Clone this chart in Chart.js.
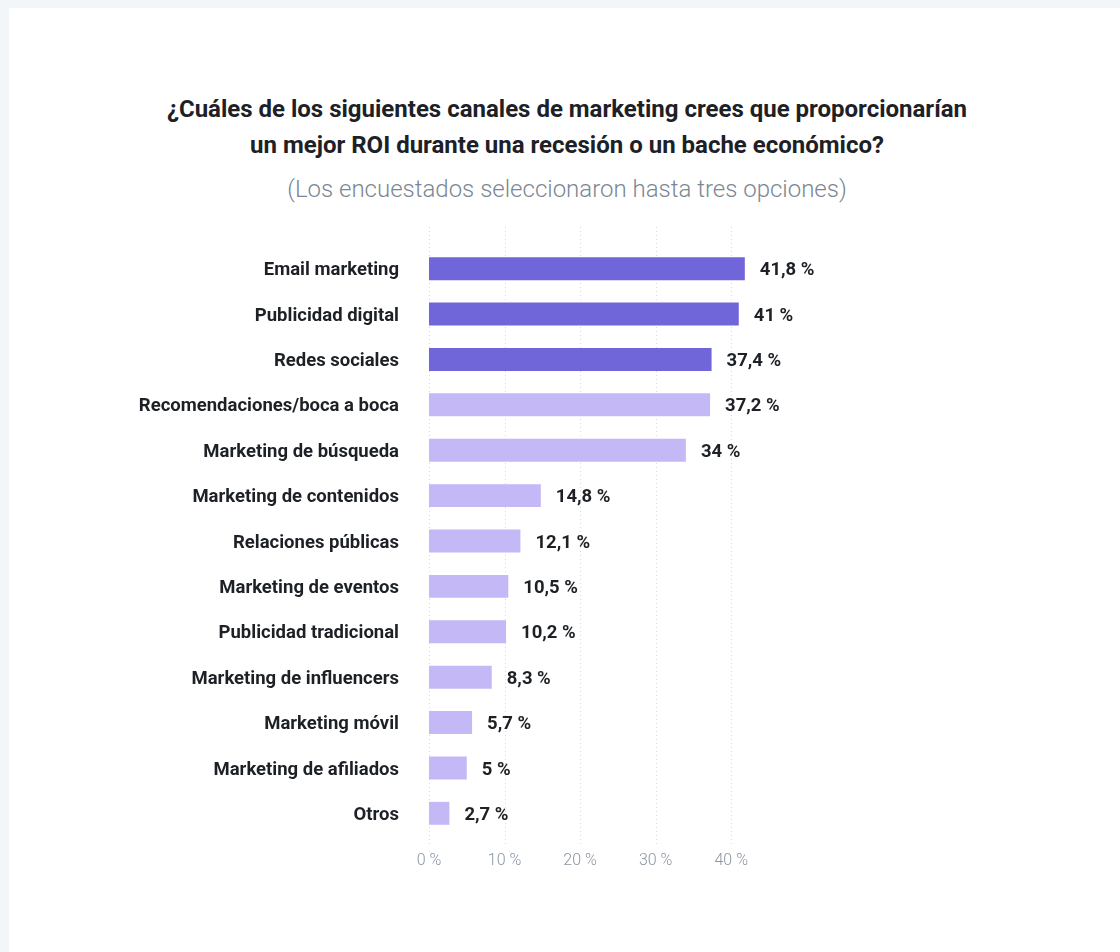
<!DOCTYPE html>
<html lang="es">
<head>
<meta charset="utf-8">
<title>Canales de marketing con mejor ROI en recesión</title>
<script src="https://cdn.jsdelivr.net/npm/chart.js@4/dist/chart.umd.min.js"></script>
<style>
  html, body { margin: 0; padding: 0; background: #f3f6f9; }
  body { width: 1120px; height: 952px; position: relative; overflow: hidden; font-family: Roboto, "Noto Sans", Arial, sans-serif; }
  .card { position: absolute; left: 9px; top: 8px; right: 0; bottom: 0; background: #ffffff; }
  .head { position: absolute; left: 14px; width: 1106px; text-align: center; margin: 0; white-space: nowrap; }
  h1.head { top: 91px; font-size: 24px; line-height: 36px; font-weight: 700; color: #1d2126; }
  p.head { top: 174px; font-size: 24px; line-height: 30px; font-weight: 300; color: #7b8794; }
  #chart { position: absolute; left: 14px; top: 8px; }
</style>
</head>
<body>
<div class="card"></div>
<h1 class="head">¿Cuáles de los siguientes canales de marketing crees que proporcionarían<br>un mejor ROI durante una recesión o un bache económico?</h1>
<p class="head">(Los encuestados seleccionaron hasta tres opciones)</p>
<canvas id="chart" width="1106" height="944"></canvas>
<script>
// Survey answers: share of respondents choosing each channel (%)
const channels = [
  'Email marketing',
  'Publicidad digital',
  'Redes sociales',
  'Recomendaciones/boca a boca',
  'Marketing de búsqueda',
  'Marketing de contenidos',
  'Relaciones públicas',
  'Marketing de eventos',
  'Publicidad tradicional',
  'Marketing de influencers',
  'Marketing móvil',
  'Marketing de afiliados',
  'Otros'
];
const shares = [41.8, 41, 37.4, 37.2, 34, 14.8, 12.1, 10.5, 10.2, 8.3, 5.7, 5, 2.7];
const axisTicks = [0, 10, 20, 30, 40];

const TOP_COUNT = 3;               // the leading channels are drawn in the stronger tone
const DARK = '#7066d9';
const LIGHT = '#c5b8f7';
const FONT = 'Roboto, "Noto Sans", Arial, sans-serif';

const fmt = v => String(v).replace('.', ',') + ' %';

// Dotted vertical guides, a little taller than the plot area
const dottedGrid = {
  id: 'dottedGrid',
  beforeDatasetsDraw(chart) {
    const { ctx, chartArea, scales: { x } } = chart;
    ctx.save();
    ctx.strokeStyle = '#d6dae0';
    ctx.lineWidth = 1;
    ctx.setLineDash([1, 3]);
    axisTicks.forEach(t => {
      const px = Math.round(x.getPixelForValue(t)) + 0.5;
      ctx.beginPath();
      ctx.moveTo(px, chartArea.top - 19);
      ctx.lineTo(px, chartArea.bottom + 11);
      ctx.stroke();
    });
    ctx.restore();
  }
};

// Value labels to the right of each bar
const valueLabels = {
  id: 'valueLabels',
  afterDatasetsDraw(chart) {
    const { ctx } = chart;
    const meta = chart.getDatasetMeta(0);
    ctx.save();
    ctx.font = 'bold 18.5px ' + FONT;
    ctx.fillStyle = '#1d2126';
    ctx.textAlign = 'left';
    ctx.textBaseline = 'middle';
    meta.data.forEach((bar, i) => {
      ctx.fillText(fmt(shares[i]), bar.x + 15, bar.y + 2);
    });
    ctx.restore();
  }
};

new Chart(document.getElementById('chart'), {
  type: 'bar',
  data: {
    labels: channels,
    datasets: [{
      data: shares,
      backgroundColor: shares.map((_, i) => i < TOP_COUNT ? DARK : LIGHT),
      borderWidth: 0,
      barPercentage: 0.506,
      categoryPercentage: 1
    }]
  },
  options: {
    indexAxis: 'y',
    responsive: false,
    animation: false,
    devicePixelRatio: 1,
    layout: { padding: { top: 238, right: 351, bottom: 83, left: 0 } },
    plugins: {
      legend: { display: false },
      tooltip: { enabled: false },
      title: { display: false },
      subtitle: { display: false }
    },
    scales: {
      x: {
        min: 0,
        max: 45,
        afterBuildTicks(scale) {
          scale.ticks = axisTicks.map(v => ({ value: v }));
        },
        afterFit(scale) { scale.height = 33; },
        grid: { display: false, drawTicks: false },
        border: { display: false },
        ticks: {
          padding: 15,
          color: '#8a96a3',
          font: { family: FONT, size: 16, weight: 300 },
          callback: v => v + ' %'
        }
      },
      y: {
        afterFit(scale) { scale.width = 415; },
        grid: { display: false, drawTicks: false },
        border: { display: false },
        ticks: {
          padding: 30,
          labelOffset: 2,
          color: '#1d2126',
          font: { family: FONT, size: 18.5, weight: 'bold' }
        }
      }
    }
  },
  plugins: [dottedGrid, valueLabels]
});
</script>
</body>
</html>
